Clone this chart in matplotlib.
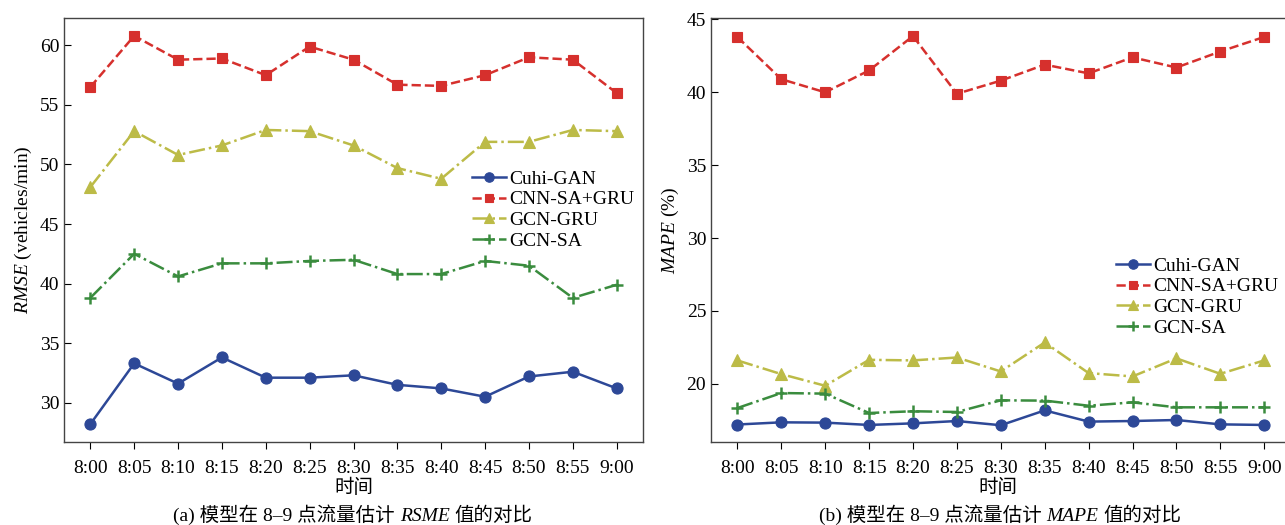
import numpy as np
import matplotlib
matplotlib.use('Agg')
import matplotlib.pyplot as plt
from matplotlib.offsetbox import TextArea, HPacker, AnnotationBbox

plt.rcParams['font.family'] = ['Liberation Serif', 'Noto Sans CJK SC']
plt.rcParams['mathtext.fontset'] = 'custom'
plt.rcParams['mathtext.rm'] = 'Liberation Serif'
plt.rcParams['mathtext.it'] = 'Liberation Serif:italic'

times = ['8:00', '8:05', '8:10', '8:15', '8:20', '8:25', '8:30',
         '8:35', '8:40', '8:45', '8:50', '8:55', '9:00']
models = ['Cuhi-GAN', 'CNN-SA+GRU', 'GCN-GRU', 'GCN-SA']

# RMSE (vehicles/min)
rmse_cuhi = [28.2, 33.3, 31.6, 33.8, 32.1, 32.1, 32.3, 31.5, 31.2, 30.5, 32.2, 32.6, 31.2]
rmse_cnn = [56.5, 60.8, 58.8, 58.9, 57.5, 59.9, 58.8, 56.7, 56.6, 57.5, 59.0, 58.8, 56.0]
rmse_gru = [48.1, 52.8, 50.8, 51.6, 52.9, 52.8, 51.6, 49.7, 48.8, 51.9, 51.9, 52.9, 52.8]
rmse_sa = [38.8, 42.5, 40.6, 41.7, 41.7, 41.9, 42.0, 40.8, 40.8, 41.9, 41.5, 38.8, 39.9]

# MAPE (%)
mape_cuhi = [17.2, 17.35, 17.33, 17.17, 17.28, 17.44, 17.15, 18.17, 17.4, 17.44, 17.51, 17.21, 17.17]
mape_cnn = [43.8, 40.9, 40.0, 41.5, 43.86, 39.9, 40.8, 41.9, 41.3, 42.4, 41.7, 42.8, 43.8]
mape_gru = [21.6, 20.66, 19.86, 21.64, 21.6, 21.8, 20.84, 22.83, 20.73, 20.5, 21.74, 20.68, 21.6]
mape_sa = [18.33, 19.36, 19.32, 17.99, 18.11, 18.06, 18.86, 18.84, 18.49, 18.72, 18.38, 18.38, 18.38]

captions = [('(a) 模型在 8–9 点流量估计', 'RSME', '值的对比'),
            ('(b) 模型在 8–9 点流量估计', 'MAPE', '值的对比')]

colors = ['#2d4897', '#d6302d', '#bcbb47', '#3a8c3e']
styles = [('-', 'o', 8), ('--', 's', 7.5), ('-.', '^', 8.5), ('-.', '+', 9)]

W, H = 1285, 525
fig = plt.figure(figsize=(W / 100, H / 100), dpi=100)


def px_axes(x0, y0, x1, y1):
    return fig.add_axes([x0 / W, 1 - y1 / H, (x1 - x0) / W, (y1 - y0) / H])


def draw(ax, series, ylim, yticks, xlim):
    x = np.arange(len(times))
    for i, y in enumerate(series):
        ls, mk, ms = styles[i]
        ax.plot(x, y, linestyle=ls, marker=mk, markersize=ms, color=colors[i],
                linewidth=1.8, markeredgewidth=1.8 if mk == '+' else 0.8,
                markeredgecolor=colors[i], label=models[i])
    ax.set_xlim(*xlim)
    ax.set_ylim(*ylim)
    ax.set_xticks(x)
    ax.set_xticklabels(times)
    ax.set_yticks(yticks)
    ax.tick_params(axis='x', direction='out', length=5, labelsize=14, pad=8)
    ax.tick_params(axis='y', direction='in', length=5, labelsize=14)
    for s in ax.spines.values():
        s.set_color('#444444')
        s.set_linewidth(1.0)


def legend(ax, x, y):
    leg = ax.legend(loc='upper left', bbox_to_anchor=(x / W, 1 - y / H),
                    bbox_transform=fig.transFigure, frameon=False, fontsize=14,
                    borderpad=0, labelspacing=0.16, handlelength=1.75,
                    handletextpad=0.15, borderaxespad=0, markerscale=0.85)
    return leg


def caption(parts, x):
    pre, it, post = parts
    box = HPacker(children=[TextArea(pre, textprops=dict(fontsize=14)),
                            TextArea(it, textprops=dict(fontsize=14, fontstyle='italic')),
                            TextArea(post, textprops=dict(fontsize=14))],
                  align='baseline', pad=0, sep=3.5)
    ab = AnnotationBbox(box, (x / W, 1 - 515 / H), xycoords='figure fraction',
                        frameon=False, box_alignment=(0.5, 0.5), pad=0)
    fig.add_artist(ab)


ax1 = px_axes(64, 18, 643, 442)
draw(ax1, [rmse_cuhi, rmse_cnn, rmse_gru, rmse_sa], (26.7, 62.3),
     [30, 35, 40, 45, 50, 55, 60], (-0.6, 12.6))
ax1.set_ylabel(r'$\mathit{RMSE}$ (vehicles/min)', fontsize=14, labelpad=4)
ax1.set_xlabel('时间', fontsize=14, labelpad=1)
legend(ax1, 472, 170)

ax2 = px_axes(711, 18, 1284, 442)
draw(ax2, [mape_cuhi, mape_cnn, mape_gru, mape_sa], (16.0, 45.1),
     [20, 25, 30, 35, 40, 45], (-0.6, 12.45))
ax2.spines['right'].set_visible(False)
ax2.set_ylabel(r'$\mathit{MAPE}$ (%)', fontsize=14, labelpad=4)
ax2.set_xlabel('时间', fontsize=14, labelpad=1)
legend(ax2, 1116, 257)

caption(captions[0], 353)
caption(captions[1], 1000)

fig.savefig('out.png', dpi=100)
